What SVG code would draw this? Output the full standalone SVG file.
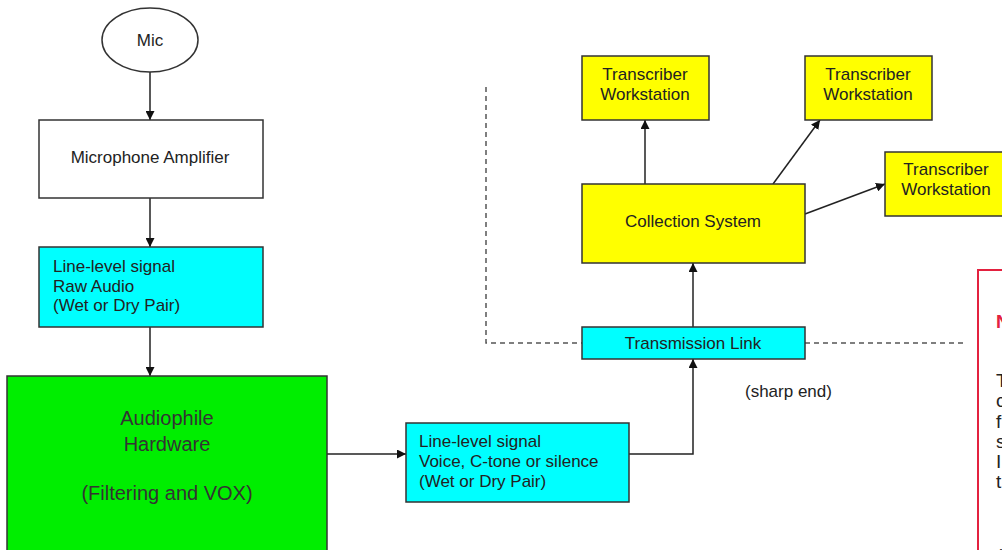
<svg xmlns="http://www.w3.org/2000/svg" width="1002" height="550" viewBox="0 0 1002 550">
<style>
.box{stroke:#333;stroke-width:1.5}
.w{fill:#fff}.c{fill:#00ffff}.y{fill:#ffff00}.g{fill:#00ee00}
text{font-family:"Liberation Sans",Arial,sans-serif;font-size:17px;fill:#222}
.mid{text-anchor:middle}
.big{font-size:20px;fill:#333}
.conn{stroke:#222;stroke-width:1.5;fill:none}
.dash{stroke:#555;stroke-width:1.5;fill:none;stroke-dasharray:5 4}
</style>
<defs>
<marker id="ah" viewBox="0 0 10 10" refX="10" refY="5" markerWidth="9" markerHeight="9" markerUnits="userSpaceOnUse" orient="auto">
<path d="M0,0 L10,5 L0,10 z" fill="#111"/>
</marker>
</defs>
<g id="connectors">
<path class="dash" d="M486,87 V343 H582"/>
<path class="dash" d="M805,343 H966"/>
<path class="conn" d="M150,72 V120" marker-end="url(#ah)"/>
<path class="conn" d="M150,198 V247" marker-end="url(#ah)"/>
<path class="conn" d="M150,327 V376" marker-end="url(#ah)"/>
<path class="conn" d="M327,454 H406" marker-end="url(#ah)"/>
<path class="conn" d="M629,454 H693 V359" marker-end="url(#ah)"/>
<path class="conn" d="M693,327 V263" marker-end="url(#ah)"/>
<path class="conn" d="M645,184 V120" marker-end="url(#ah)"/>
<path class="conn" d="M773,184 L820,120" marker-end="url(#ah)"/>
<path class="conn" d="M805,214 L885,184" marker-end="url(#ah)"/>
</g>
<g id="mic">
<ellipse cx="150" cy="40" rx="48" ry="32" class="box w"/>
<text x="150" y="46" class="mid">Mic</text>
</g>
<g id="amp">
<rect x="39" y="120" width="224" height="78" class="box w"/>
<text x="150" y="163" class="mid">Microphone Amplifier</text>
</g>
<g id="raw">
<rect x="39" y="247" width="224" height="80" class="box c"/>
<text x="53" y="272">Line-level signal</text>
<text x="53" y="292">Raw Audio</text>
<text x="53" y="311">(Wet or Dry Pair)</text>
</g>
<g id="hardware">
<rect x="7" y="376" width="320" height="190" class="box g"/>
<text x="167" y="425" class="mid big">Audiophile</text>
<text x="167" y="451" class="mid big">Hardware</text>
<text x="167" y="500" class="mid big">(Filtering and VOX)</text>
</g>
<g id="voice">
<rect x="406" y="423" width="223" height="79" class="box c"/>
<text x="419" y="447">Line-level signal</text>
<text x="419" y="467">Voice, C-tone or silence</text>
<text x="419" y="487">(Wet or Dry Pair)</text>
</g>
<g id="transmission">
<rect x="582" y="327" width="223" height="32" class="box c"/>
<text x="693" y="349" class="mid">Transmission Link</text>
</g>
<g id="sharp">
<text x="745" y="397">(sharp end)</text>
</g>
<g id="collection">
<rect x="582" y="184" width="223" height="79" class="box y"/>
<text x="693" y="227" class="mid">Collection System</text>
</g>
<g id="tw1">
<rect x="582" y="56" width="127" height="64" class="box y"/>
<text x="645" y="80" class="mid">Transcriber</text>
<text x="645" y="100" class="mid">Workstation</text>
</g>
<g id="tw2">
<rect x="805" y="56" width="127" height="64" class="box y"/>
<text x="868" y="80" class="mid">Transcriber</text>
<text x="868" y="100" class="mid">Workstation</text>
</g>
<g id="tw3">
<rect x="885" y="152" width="125" height="64" class="box y"/>
<text x="946" y="175" class="mid">Transcriber</text>
<text x="946" y="195" class="mid">Workstation</text>
</g>
<g id="note">
<rect x="978" y="270" width="60" height="300" fill="#fff" stroke="#e3213f" stroke-width="2"/>
<text x="996" y="328" style="fill:#e3213f;font-weight:bold;font-size:19px">N</text>
<text x="996" y="387" style="font-size:19px">T</text>
<text x="996" y="407" style="font-size:19px">c</text>
<text x="996" y="428" style="font-size:19px">f</text>
<text x="996" y="448" style="font-size:19px">s</text>
<text x="996" y="468" style="font-size:19px">I</text>
<text x="996" y="488" style="font-size:19px">t</text>
<text x="996" y="562" style="font-size:19px">(</text>
</g>
</svg>
